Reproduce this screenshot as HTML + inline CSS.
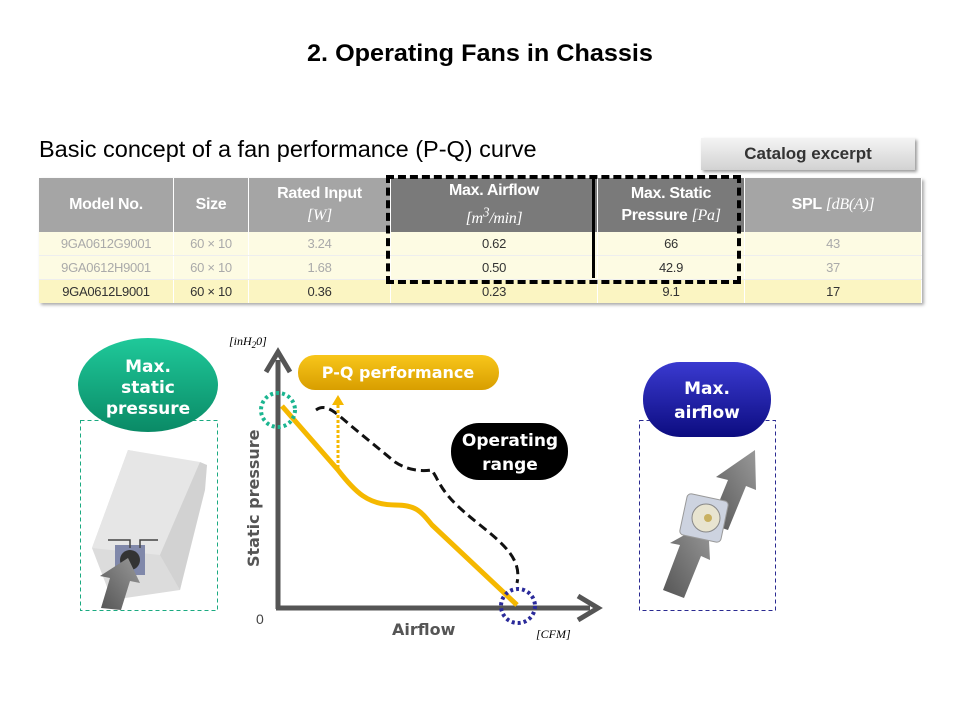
<!DOCTYPE html>
<html><head><meta charset="utf-8"><style>
body{margin:0;width:960px;height:720px;background:#fff;position:relative;overflow:hidden;font-family:"Liberation Sans",sans-serif}
.a{position:absolute}
table{border-collapse:collapse;position:absolute;left:39px;top:178px;width:883px;box-shadow:2px 2px 3px #aaa}
td{text-align:center;font-size:13px;padding:0;border-right:1px solid #fff;font-family:"Liberation Sans",sans-serif;letter-spacing:-0.3px}
tr.h td{background:#a5a5a5;color:#fff;font-weight:bold;font-size:16px;height:54px;line-height:22px}
tr.h td.d{background:#7a7a7a}
tr.r td{height:23px;color:#aaa;background:#fdfbe3;border-bottom:1px solid #eee}
tr.s td{height:23px;color:#333;background:#fbf5c2}
i{font-family:"Liberation Serif",serif;font-weight:normal}
</style></head><body>
<div class="a" style="left:0;width:960px;top:40px;text-align:center;font-size:24px;font-weight:bold;transform:scaleX(1.05)">2. Operating Fans in Chassis</div>
<div class="a" style="left:39px;top:136px;font-size:23.5px">Basic concept of a fan performance (P-Q) curve</div>
<div class="a" style="left:701px;top:138px;width:214px;height:32px;background:linear-gradient(#f4f4f4,#d2d2d2);box-shadow:2px 2px 3px #999;text-align:center;line-height:32px;font-size:17px;font-weight:bold;color:#333">Catalog excerpt</div>
<table>
<tr class="h"><td style="width:134px">Model No.</td><td style="width:74px">Size</td><td style="width:141px">Rated Input<br><i>[W]</i></td><td class="d" style="width:206px">Max. Airflow<br><i>[m<sup>3</sup>/min]</i></td><td class="d" style="width:146px">Max. Static<br>Pressure <i>[Pa]</i></td><td>SPL <i>[dB(A)]</i></td></tr>
<tr class="r"><td>9GA0612G9001</td><td>60 × 10</td><td>3.24</td><td style="color:#333">0.62</td><td style="color:#333">66</td><td>43</td></tr>
<tr class="r"><td>9GA0612H9001</td><td>60 × 10</td><td>1.68</td><td style="color:#333">0.50</td><td style="color:#333">42.9</td><td>37</td></tr>
<tr class="s"><td>9GA0612L9001</td><td>60 × 10</td><td>0.36</td><td>0.23</td><td>9.1</td><td>17</td></tr>
</table>
<div class="a" style="left:386px;top:175px;width:347px;height:101px;border:4px dashed #000"></div>
<div class="a" style="left:592px;top:177px;width:3px;height:101px;background:#000"></div>

<svg class="a" style="left:0;top:0" width="960" height="720">
<defs>
<linearGradient id="g" x1="0" y1="0" x2="0" y2="1"><stop offset="0" stop-color="#1fc99a"/><stop offset="1" stop-color="#0a8a66"/></linearGradient>
<linearGradient id="b" x1="0" y1="0" x2="0" y2="1"><stop offset="0" stop-color="#3a3ad0"/><stop offset="1" stop-color="#0c0c80"/></linearGradient>
<linearGradient id="o" x1="0" y1="0" x2="0" y2="1"><stop offset="0" stop-color="#f8c61a"/><stop offset="1" stop-color="#d89e00"/></linearGradient>
<linearGradient id="ar" x1="0" y1="1" x2="1" y2="0"><stop offset="0" stop-color="#555"/><stop offset="1" stop-color="#999"/></linearGradient>
</defs>
<!-- left box -->
<rect x="80.5" y="420.5" width="137" height="190" fill="none" stroke="#1aaa80" stroke-dasharray="4,3"/>
<polygon points="92,548 128,450 207,465 180,590 112,600" fill="#dcdcdc"/>
<polygon points="92,548 128,450 200,462 160,555" fill="#e6e6e6"/>
<polygon points="200,462 207,465 205,490 180,590 160,555" fill="#d2d2d2"/>
<rect x="115" y="545" width="30" height="30" fill="#8088aa"/>
<circle cx="130" cy="560" r="10" fill="#333"/>
<polygon points="101,608 110,578 100,576 128,558 140,583 130,581 121,610" fill="url(#ar)"/>
<path d="M130 548 V540 H108 M140 548 V540 H158" fill="none" stroke="#444" stroke-width="1.5"/>
<ellipse cx="148" cy="385" rx="70" ry="47" fill="url(#g)"/>
<text x="148" y="372" text-anchor="middle" font-size="17" font-weight="bold" fill="#fff" font-family="DejaVu Sans">Max.</text>
<text x="148" y="393" text-anchor="middle" font-size="17" font-weight="bold" fill="#fff" font-family="DejaVu Sans">static</text>
<text x="148" y="414" text-anchor="middle" font-size="17" font-weight="bold" fill="#fff" font-family="DejaVu Sans">pressure</text>
<!-- right box -->
<rect x="639.5" y="420.5" width="136" height="190" fill="none" stroke="#2a2a90" stroke-dasharray="4,3"/>
<polygon points="663,590 680,545 670,543 708,522 710,560 701,556 684,598" fill="url(#ar)"/>
<polygon points="710,524 728,480 716,477 755,450 756,490 746,486 728,530" fill="url(#ar)"/>
<rect x="683" y="497" width="42" height="42" rx="4" fill="#cdd3e0" stroke="#999" transform="rotate(12 704 518)"/>
<circle cx="706" cy="518" r="14" fill="#e8e4d0" stroke="#888"/>
<circle cx="708" cy="518" r="4" fill="#c8b060"/>
<rect x="643" y="362" width="128" height="75" rx="37" fill="url(#b)"/>
<text x="707" y="394" text-anchor="middle" font-size="17" font-weight="bold" fill="#fff" font-family="DejaVu Sans">Max.</text>
<text x="707" y="418" text-anchor="middle" font-size="17" font-weight="bold" fill="#fff" font-family="DejaVu Sans">airflow</text>
<!-- axes -->
<line x1="278" y1="609" x2="278" y2="360" stroke="#555" stroke-width="5"/>
<polyline points="266,372 278,352 290,372" fill="none" stroke="#555" stroke-width="5"/>
<line x1="276" y1="608" x2="590" y2="608" stroke="#555" stroke-width="5"/>
<polyline points="578,596 598,608 578,620" fill="none" stroke="#555" stroke-width="5"/>
<text x="229" y="345" font-size="12" font-style="italic" font-family="Liberation Serif">[inH<tspan font-size="9" dy="3">2</tspan><tspan dy="-3">0]</tspan></text>
<text x="536" y="638" font-size="12" font-style="italic" font-family="Liberation Serif">[CFM]</text>
<text x="256" y="624" font-size="14" fill="#444">0</text>
<text x="392" y="635" font-size="16" font-weight="bold" fill="#555" font-family="DejaVu Sans">Airflow</text>
<text transform="translate(259,567) rotate(-90)" font-size="16" font-weight="bold" fill="#555" font-family="DejaVu Sans">Static pressure</text>
<!-- curves -->
<path d="M282 406 L338 470 C355 492 368 505 395 505 C415 505 420 510 432 525 L517 605" fill="none" stroke="#f5b800" stroke-width="5"/>
<path d="M316 410 C326 403 335 412 350 425 L395 462 C410 472 425 471 432 470 L436 477 C445 495 455 505 480 525 C505 545 522 560 517 583" fill="none" stroke="#111" stroke-width="3" stroke-dasharray="9,5"/>
<line x1="338" y1="468" x2="338" y2="404" stroke="#f5b800" stroke-width="3" stroke-dasharray="3,2"/>
<polygon points="332,405 344,405 338,395" fill="#f5b800"/>
<circle cx="278" cy="410" r="17" fill="none" stroke="#1bb590" stroke-width="4" stroke-dasharray="3,3"/>
<circle cx="518" cy="606" r="17" fill="none" stroke="#2a2a9a" stroke-width="4" stroke-dasharray="3,3"/>
<rect x="298" y="355" width="201" height="35" rx="17" fill="url(#o)"/>
<text x="398" y="378" text-anchor="middle" font-size="16" font-weight="bold" fill="#fff" font-family="DejaVu Sans">P-Q performance</text>
<rect x="451" y="423" width="117" height="57" rx="28" fill="#000"/>
<text x="510" y="446" text-anchor="middle" font-size="17" font-weight="bold" fill="#fff" font-family="DejaVu Sans">Operating</text>
<text x="510" y="470" text-anchor="middle" font-size="17" font-weight="bold" fill="#fff" font-family="DejaVu Sans">range</text>
</svg>
</body></html>
